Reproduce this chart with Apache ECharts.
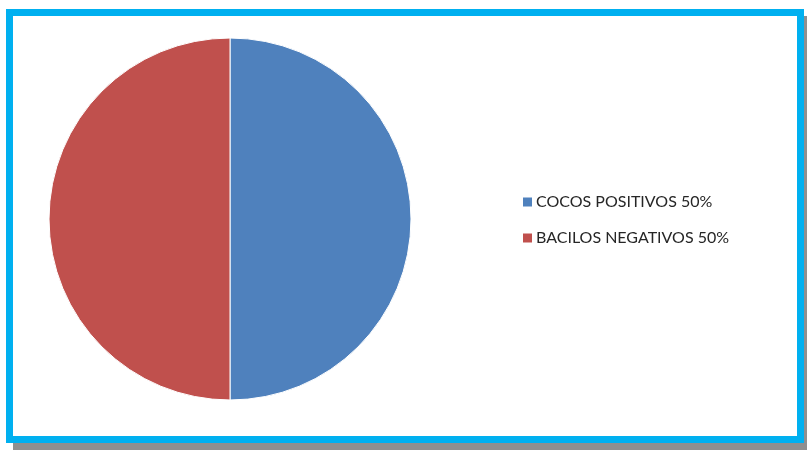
<!DOCTYPE html>
<html>
<head>
<meta charset="utf-8">
<style>
  html, body { margin: 0; padding: 0; background: #ffffff; }
  #chart { width: 807px; height: 450px; }
</style>
<script src="https://cdn.jsdelivr.net/npm/echarts@6/dist/echarts.min.js"></script>
</head>
<body>
<div id="chart"></div>
<script>
// Bacterial morphology breakdown
const categories = ['COCOS POSITIVOS', 'BACILOS NEGATIVOS'];
const values = [50, 50];
const colors = ['#4F81BD', '#C0504D'];

const total = values.reduce((a, b) => a + b, 0);
const pctByName = {};
categories.forEach((c, i) => { pctByName[c] = Math.round(values[i] / total * 100); });

const chart = echarts.init(document.getElementById('chart'), null, { renderer: 'canvas' });

chart.setOption({
  animation: false,
  backgroundColor: '#ffffff',
  color: colors,
  graphic: [
    // drop shadow behind the frame
    { type: 'rect', z: -10, shape: { x: 13, y: 16, width: 794, height: 434 },
      style: { fill: '#8f8f8f' } },
    // framed white panel
    { type: 'rect', z: -9, shape: { x: 9.5, y: 12.5, width: 791, height: 427 },
      style: { fill: '#ffffff', stroke: '#00B0F0', lineWidth: 7 } }
  ],
  legend: {
    orient: 'vertical',
    left: 523,
    top: 193,
    padding: 0,
    itemWidth: 9,
    itemHeight: 9,
    itemGap: 18,
    icon: 'rect',
    itemStyle: { borderWidth: 0 },
    data: categories,
    formatter: name => name + ' ' + pctByName[name] + '%',
    textStyle: {
      fontFamily: 'Lato, "Open Sans", sans-serif',
      fontSize: 16,
      lineHeight: 18,
      color: '#262626',
      padding: [0, 0, 0, -1]
    }
  },
  series: [{
    type: 'pie',
    center: [230, 219],
    radius: 181,
    startAngle: 90,
    clockwise: true,
    label: { show: false },
    labelLine: { show: false },
    emphasis: { disabled: true },
    itemStyle: { borderColor: '#ffffff', borderWidth: 1 },
    data: categories.map((c, i) => ({ name: c, value: values[i] }))
  }]
});
</script>
</body>
</html>
